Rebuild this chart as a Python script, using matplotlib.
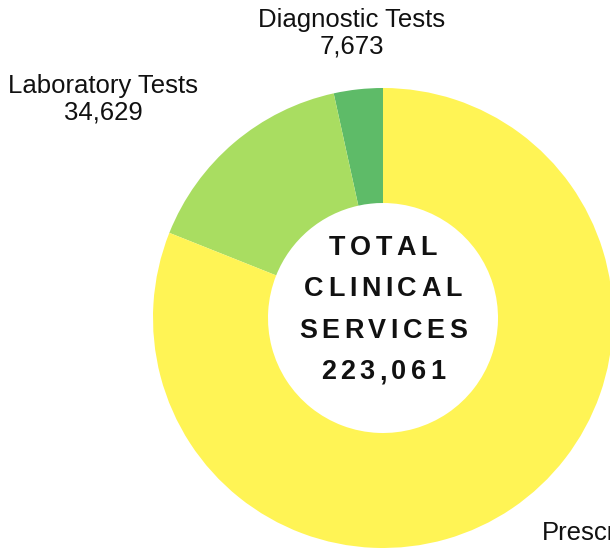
import matplotlib
matplotlib.use("Agg")
import matplotlib.pyplot as plt
from matplotlib.textpath import TextPath
from matplotlib.font_manager import FontProperties

labels = ["Diagnostic Tests", "Laboratory Tests", "Prescriptions"]
values = [7673, 34629, 180759]
colors = ["#5ebb68", "#a9dd61", "#fff455"]
center_lines = ["TOTAL", "CLINICAL", "SERVICES", "223,061"]

W, H = 610, 548
fig = plt.figure(figsize=(W / 100, H / 100), dpi=100)
ax = fig.add_axes([0, 0, 1, 1])

cx, cy = 383, H - 318
ax.pie(values, colors=colors, startangle=90, counterclock=True,
       center=(cx, cy), radius=230, frame=True,
       wedgeprops=dict(width=115, linewidth=0))
ax.set_xlim(0, W)
ax.set_ylim(0, H)
ax.set_aspect("equal")
ax.axis("off")

lab_font = dict(family="Liberation Sans", fontsize=18.5, color="#111111",
                ha="center", va="center", linespacing=1.12)
ax.text(352, H - 33, labels[0] + "\n7,673", **lab_font)
ax.text(103, H - 99, labels[1] + "\n34,629", **lab_font)
ax.text(542, H - 521, labels[2] + "\n180,759", family="Liberation Sans",
        fontsize=18.5, color="#111111", ha="left", va="top", linespacing=1.12)

# letter-spaced bold centre text
fp = FontProperties(family="Liberation Sans", weight="bold")
size_px = 27
track = 4.5
bar = TextPath((0, 0), "|", size=size_px, prop=fp).get_extents()
for line, yc in zip(center_lines, [248, 289, 331, 372]):
    adv = [TextPath((0, 0), ch + "|", size=size_px, prop=fp).get_extents().x1 - bar.x1
           for ch in line]
    total = sum(adv) + track * (len(line) - 1)
    x = cx - total / 2
    for ch, a in zip(line, adv):
        ax.text(x, H - yc, ch, family="Liberation Sans", weight="bold",
                fontsize=size_px * 72 / 100, color="#111111", ha="left", va="center")
        x += a + track

fig.savefig("out.png", dpi=100)
